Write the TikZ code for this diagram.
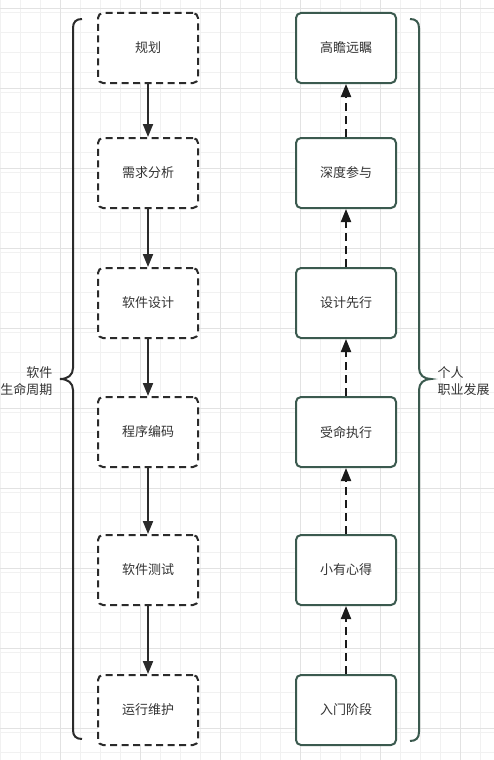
\documentclass[tikz,border=0pt]{standalone}
\usepackage{fontspec}
\setmainfont{Noto Sans CJK SC}
\usetikzlibrary{arrows.meta}
\definecolor{boxdark}{HTML}{2B2B2B}
\definecolor{greenbd}{HTML}{3B5A4F}
\definecolor{txt}{HTML}{333333}
\definecolor{gridminor}{HTML}{F1F1F1}
\definecolor{gridmajor}{HTML}{E2E2E2}
\tikzset{
  lifebox/.style={draw=boxdark, line width=2pt, dash pattern=on 7pt off 4.5pt, rounded corners=5pt, minimum width=100pt, minimum height=70pt, fill=white, text=txt, font=\fontsize{13}{15}\selectfont},
  careerbox/.style={draw=greenbd, line width=2pt, rounded corners=5pt, minimum width=100pt, minimum height=70pt, fill=white, text=txt, font=\fontsize{13}{15}\selectfont},
  downarrow/.style={draw=boxdark, line width=2pt, -{Triangle[width=10pt,length=13pt]}},
  uparrow/.style={draw=black!90, line width=2pt, dash pattern=on 8pt off 5pt, -{Triangle[width=10pt,length=13pt]}},
  bracelabel/.style={text=txt, font=\fontsize{13}{17}\selectfont, align=left}
}
\begin{document}
\begin{tikzpicture}[x=1pt,y=-1pt]
\useasboundingbox (0,0) rectangle (494,760);
\fill[white] (0,0) rectangle (494,760);
\draw[gridminor, line width=0.6pt, step=20pt, shift={(0,-8)}] (0,8) grid (494,768);
\foreach \gx in {60,140,220,300,380,460} \draw[gridmajor, line width=0.8pt] (\gx,0) -- (\gx,760);
\foreach \gy in {8,88,168,248,328,408,488,568,648,728} \draw[gridmajor, line width=0.8pt] (0,\gy) -- (494,\gy);

% left column
\node[lifebox] (l1) at (148,48) {规划};
\node[lifebox] (l2) at (148,173) {需求分析};
\node[lifebox] (l3) at (148,303) {软件设计};
\node[lifebox] (l4) at (148,432) {程序编码};
\node[lifebox] (l5) at (148,570) {软件测试};
\node[lifebox] (l6) at (148,710) {运行维护};
\draw[downarrow] (l1) -- (l2);
\draw[downarrow] (l2) -- (l3);
\draw[downarrow] (l3) -- (l4);
\draw[downarrow] (l4) -- (l5);
\draw[downarrow] (l5) -- (l6);

% right column
\node[careerbox] (r6) at (346,48) {高瞻远瞩};
\node[careerbox] (r5) at (346,173) {深度参与};
\node[careerbox] (r4) at (346,303) {设计先行};
\node[careerbox] (r3) at (346,432) {受命执行};
\node[careerbox] (r2) at (346,570) {小有心得};
\node[careerbox] (r1) at (346,710) {入门阶段};
\draw[uparrow] (r1) -- (r2);
\draw[uparrow] (r2) -- (r3);
\draw[uparrow] (r3) -- (r4);
\draw[uparrow] (r4) -- (r5);
\draw[uparrow] (r5) -- (r6);

% left brace
\coordinate (lbtop) at (82,19);
\coordinate (lbbot) at (82,739);
\coordinate (lbtip) at (60,379);
\draw[boxdark, line width=2pt] (lbtop) .. controls (76,19) and (73,22) .. (73,28)
  -- (73,368) .. controls (73,375) and (68,379) .. (lbtip)
  .. controls (68,379) and (73,383) .. (73,390)
  -- (73,730) .. controls (73,736) and (76,739) .. (lbbot);
\node[bracelabel, align=right, anchor=east] (llab) at (56,381) {软件\\生命周期};

% right brace
\coordinate (rbtop) at (410,19);
\coordinate (rbbot) at (410,741);
\coordinate (rbtip) at (431,379);
\draw[greenbd, line width=2pt] (rbtop) .. controls (416,19) and (419,22) .. (419,28)
  -- (419,368) .. controls (419,375) and (424,379) .. (rbtip)
  .. controls (424,379) and (419,383) .. (419,390)
  -- (419,732) .. controls (419,738) and (416,741) .. (rbbot);
\node[bracelabel, anchor=west] (rlab) at (434,381) {个人\\职业发展};
\end{tikzpicture}
\end{document}
